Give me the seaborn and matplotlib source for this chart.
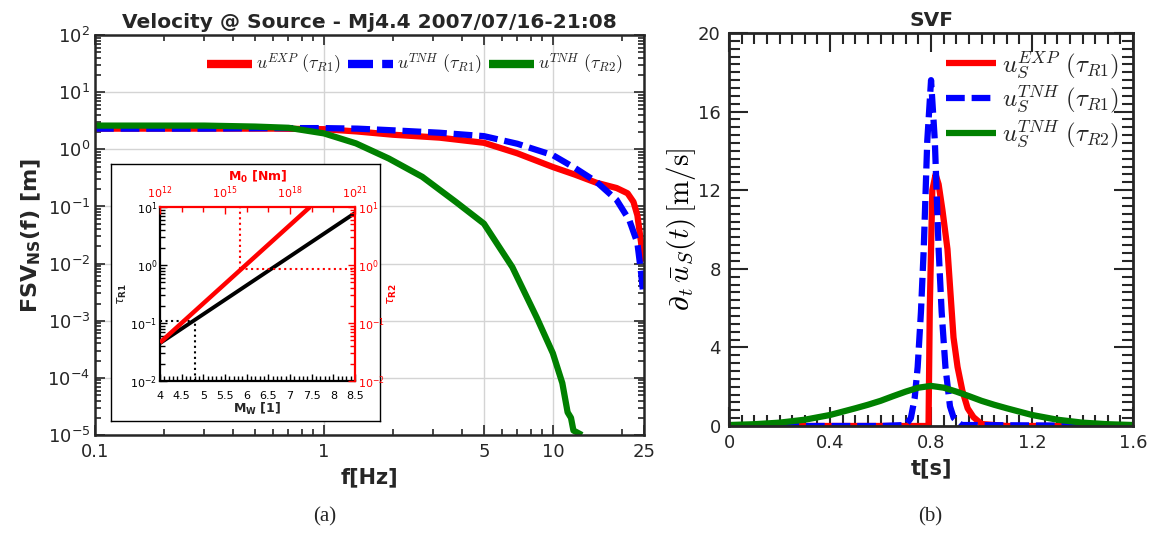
import numpy as np
import pandas as pd
import matplotlib
matplotlib.use("Agg")
import matplotlib.pyplot as plt
import seaborn as sns
from matplotlib.ticker import FixedLocator, NullFormatter, FixedFormatter, MultipleLocator, LogLocator

# values
# (a) spectra, FSV_NS(f) [m]
freq_red = [0.1, 0.3, 0.6, 1.0, 1.4, 2.0, 3.2, 5.0, 7.0, 10.0, 12.5, 15.5, 19.0, 21.2, 22.5, 23.4, 24.3, 24.8, 25.0]
fsv_red = [2.3, 2.3, 2.3, 2.25, 2.05, 1.8, 1.6, 1.3, 0.85, 0.49, 0.36, 0.26, 0.21, 0.17, 0.12, 0.07, 0.023, 0.0115, 0.011]

freq_blue = [0.1, 0.3, 0.6, 1.0, 1.4, 2.0, 3.2, 5.0, 7.0, 10.0, 12.5, 15.5, 19.0, 21.6, 23.4, 24.3, 24.8, 25.0]
fsv_blue = [2.3, 2.3, 2.35, 2.35, 2.3, 2.15, 1.95, 1.7, 1.25, 0.79, 0.47, 0.27, 0.13, 0.057, 0.023, 0.0068, 0.003, 0.0028]

freq_green = [0.1, 0.3, 0.5, 0.7, 1.0, 1.38, 1.92, 2.69, 3.77, 5.0, 6.65, 8.5, 10.0, 11.0, 11.6, 12.0, 12.3, 13.4]
fsv_green = [2.6, 2.6, 2.5, 2.38, 1.9, 1.27, 0.69, 0.33, 0.12, 0.05, 0.0087, 0.00114, 2.7e-4, 8.1e-5, 2.5e-5, 2.0e-5, 1.2e-5, 1.0e-5]

# inset: tau_R1 vs Mw and tau_R2 vs M0
mw = [4.0, 8.5]
tau_r1 = [0.045, 7.9]
m0 = [1e12, 8.3e18]
tau_r2 = [0.046, 10.0]
mw_event = 4.8
tau_r1_event = 0.11
m0_event = 10 ** 15.7
tau_r2_event = 0.85

# (b) source velocity function [m/s]
t_red = [0.0, 0.6, 0.79, 0.795, 0.805, 0.818, 0.83, 0.845, 0.865, 0.889, 0.905, 0.924, 0.945, 0.968, 1.0, 1.1, 1.6]
svf_red = [0.0, 0.0, 0.0, 6.0, 12.0, 12.8, 12.3, 11.0, 9.0, 4.5, 3.0, 1.8, 0.9, 0.45, 0.1, 0.0, 0.0]

t_blue = [0.0, 0.6, 0.7, 0.72, 0.735, 0.747, 0.76, 0.771, 0.785, 0.80, 0.815, 0.83, 0.842, 0.857, 0.875, 0.89, 0.92, 1.6]
svf_blue = [0.0, 0.0, 0.05, 0.4, 1.4, 3.0, 5.8, 9.0, 14.5, 17.6, 14.5, 9.0, 5.8, 3.0, 1.0, 0.4, 0.05, 0.0]

t_green = [0.0, 0.1, 0.2, 0.3, 0.4, 0.5, 0.55, 0.6, 0.65, 0.7, 0.75, 0.8, 0.85, 0.9, 0.95, 1.0, 1.05,
           1.1, 1.2, 1.3, 1.4, 1.5, 1.6]
svf_green = [0.05, 0.09, 0.17, 0.32, 0.56, 0.9, 1.08, 1.28, 1.52, 1.75, 1.95, 2.04, 1.95, 1.75, 1.52, 1.28, 1.08,
             0.9, 0.56, 0.32, 0.17, 0.09, 0.05]

RED = '#ff0000'
BLUE = '#0000ff'
GREEN = '#008000'
DARK = '#262626'

sns.set_style("ticks")
plt.rcParams['font.family'] = ['DejaVu Sans']
plt.rcParams['mathtext.fontset'] = 'dejavusans'
plt.rcParams['lines.solid_capstyle'] = 'butt'
plt.rcParams['lines.dash_capstyle'] = 'butt'

fig = plt.figure(figsize=(11.53, 5.38), dpi=100)

# ---------- (a) spectra ----------
ax1 = fig.add_axes([0.0824, 0.1914, 0.4761, 0.7435])
sns.lineplot(x=freq_red, y=fsv_red, color=RED, lw=4.5, ax=ax1, estimator=None,
             label=r'$u^{EXP}\ (\tau_{R1})$')
sns.lineplot(x=freq_blue, y=fsv_blue, color=BLUE, lw=4.5, ax=ax1, estimator=None,
             label=r'$u^{TNH}\ (\tau_{R1})$')
ax1.get_lines()[-1].set_dashes((3.0, 1.1))
sns.lineplot(x=freq_green, y=fsv_green, color=GREEN, lw=4.5, ax=ax1, estimator=None,
             label=r'$u^{TNH}\ (\tau_{R2})$')

ax1.set_xscale('log')
ax1.set_yscale('log')
ax1.set_xlim(0.1, 25)
ax1.set_ylim(1e-5, 1e2)
ax1.xaxis.set_major_locator(FixedLocator([0.1, 1, 5, 10, 25]))
ax1.xaxis.set_major_formatter(FixedFormatter(['0.1', '1', '5', '10', '25']))
ax1.xaxis.set_minor_locator(FixedLocator([0.2, 0.3, 0.4, 0.5, 0.6, 0.7, 0.8, 0.9, 2, 3, 4, 6, 7, 8, 9, 20]))
ax1.xaxis.set_minor_formatter(NullFormatter())
ax1.yaxis.set_major_locator(LogLocator(base=10, numticks=20))
ax1.yaxis.set_minor_locator(LogLocator(base=10, subs=np.arange(2, 10), numticks=20))
ax1.yaxis.set_minor_formatter(NullFormatter())
ax1.grid(True, which='major', color='#d4d4d4', lw=1.0)
ax1.set_axisbelow(True)
ax1.tick_params(which='both', direction='in', top=True, right=True, colors=DARK, labelsize=13, width=1.2)
ax1.tick_params(which='major', length=7)
ax1.tick_params(which='minor', length=4)
ax1.tick_params(axis='x', pad=6)
for s in ax1.spines.values():
    s.set_color(DARK)
    s.set_linewidth(1.8)
ax1.set_title('Velocity @ Source - Mj4.4 2007/07/16-21:08', fontweight='bold', fontsize=14.5, pad=5)
ax1.set_xlabel('f[Hz]', fontweight='bold', fontsize=15, color=DARK)
ax1.set_ylabel(r'FSV$_\mathbf{NS}$(f) [m]', fontweight='bold', fontsize=16, color=DARK, labelpad=3)
leg1 = ax1.legend(loc='upper right', bbox_to_anchor=(0.975, 0.975), ncol=3, frameon=False, fontsize=13,
                  handlelength=2.5, columnspacing=0.4, handletextpad=0.2, borderaxespad=0)
for t in leg1.get_texts():
    t.set_math_fontfamily('cm')
for h in leg1.get_lines():
    h.set_linewidth(6)

# inset box
ax_box = fig.add_axes([0.0963, 0.2175, 0.2333, 0.4777])
ax_box.set_xticks([])
ax_box.set_yticks([])
for s in ax_box.spines.values():
    s.set_color('black')
    s.set_linewidth(1.0)

rect_in = [0.1388, 0.2918, 0.1691, 0.3234]
ax_in = fig.add_axes(rect_in)
sns.lineplot(x=mw, y=tau_r1, color='black', lw=2.8, ax=ax_in, estimator=None)
ax_in.plot([mw_event, mw_event], [1e-2, tau_r1_event], ls=':', color='black', lw=1.5)
ax_in.plot([mw[0], mw_event], [tau_r1_event, tau_r1_event], ls=':', color='black', lw=1.5)
ax_in.set_yscale('log')
ax_in.set_xlim(4, 8.5)
ax_in.set_ylim(1e-2, 1e1)
ax_in.xaxis.set_major_locator(FixedLocator(np.arange(4, 8.51, 0.5)))
ax_in.xaxis.set_major_formatter(FixedFormatter(['4', '4.5', '5', '5.5', '6', '6.5', '7', '7.5', '8', '8.5']))
ax_in.xaxis.set_minor_locator(MultipleLocator(0.1))
ax_in.yaxis.set_minor_locator(LogLocator(base=10, subs=np.arange(2, 10), numticks=20))
ax_in.yaxis.set_minor_formatter(NullFormatter())
ax_in.tick_params(which='both', direction='in', top=False, right=False, colors='black', labelsize=8, width=1.0)
ax_in.tick_params(which='major', length=5, pad=2)
ax_in.tick_params(which='minor', length=3.5)
ax_in.tick_params(axis='x', pad=7)
ax_in.spines['top'].set_visible(False)
ax_in.spines['right'].set_visible(False)
for s in ['left', 'bottom']:
    ax_in.spines[s].set_linewidth(1.6)
    ax_in.spines[s].set_color('black')
ax_in.set_xlabel(r'M$_\mathbf{W}$ [1]', fontweight='bold', fontsize=9, labelpad=0)
ax_in.set_ylabel(r'$\tau_\mathbf{R1}$', fontsize=9, labelpad=1)

ax_in2 = fig.add_axes(rect_in, facecolor='none')
sns.lineplot(x=m0, y=tau_r2, color=RED, lw=3.2, ax=ax_in2, estimator=None)
ax_in2.plot([m0_event, m0_event], [tau_r2_event, 1e1], ls=':', color=RED, lw=1.5)
ax_in2.plot([m0_event, 1e21], [tau_r2_event, tau_r2_event], ls=':', color=RED, lw=1.5)
ax_in2.set_xscale('log')
ax_in2.set_yscale('log')
ax_in2.set_xlim(1e12, 1e21)
ax_in2.set_ylim(1e-2, 1e1)
ax_in2.xaxis.tick_top()
ax_in2.yaxis.tick_right()
ax_in2.xaxis.set_label_position('top')
ax_in2.yaxis.set_label_position('right')
ax_in2.xaxis.set_major_locator(FixedLocator([1e12, 1e15, 1e18, 1e21]))
ax_in2.xaxis.set_minor_locator(FixedLocator([10.0 ** k for k in range(13, 21)]))
ax_in2.xaxis.set_minor_formatter(NullFormatter())
ax_in2.yaxis.set_major_locator(LogLocator(base=10, numticks=20))
ax_in2.yaxis.set_minor_locator(LogLocator(base=10, subs=np.arange(2, 10), numticks=20))
ax_in2.yaxis.set_minor_formatter(NullFormatter())
ax_in2.tick_params(which='both', direction='in', colors=RED, labelsize=8, width=1.0)
ax_in2.tick_params(which='major', length=5, pad=2)
ax_in2.tick_params(which='minor', length=3.5)
ax_in2.tick_params(axis='x', pad=4)
ax_in2.tick_params(axis='y', pad=2)
ax_in2.spines['bottom'].set_visible(False)
ax_in2.spines['left'].set_visible(False)
for s in ['top', 'right']:
    ax_in2.spines[s].set_color(RED)
    ax_in2.spines[s].set_linewidth(1.6)
ax_in2.set_xlabel(r'M$_\mathbf{0}$ [Nm]', fontweight='bold', fontsize=9, color=RED, labelpad=3)
ax_in2.set_ylabel(r'$\tau_\mathbf{R2}$', fontsize=9, color=RED, labelpad=1)

# ---------- (b) SVF ----------
ax2 = fig.add_axes([0.6323, 0.2082, 0.3504, 0.7305])
sns.lineplot(x=t_red, y=svf_red, color=RED, lw=4.5, ax=ax2, estimator=None,
             label=r'$u_S^{EXP}\ (\tau_{R1})$')
sns.lineplot(x=t_blue, y=svf_blue, color=BLUE, lw=4.5, ax=ax2, estimator=None,
             label=r'$u_S^{TNH}\ (\tau_{R1})$')
ax2.get_lines()[-1].set_dashes((3.0, 1.1))
sns.lineplot(x=t_green, y=svf_green, color=GREEN, lw=4.5, ax=ax2, estimator=None,
             label=r'$u_S^{TNH}\ (\tau_{R2})$')
ax2.set_xlim(0, 1.6)
ax2.set_ylim(0, 20)
ax2.xaxis.set_major_locator(FixedLocator([0, 0.4, 0.8, 1.2, 1.6]))
ax2.xaxis.set_major_formatter(FixedFormatter(['0', '0.4', '0.8', '1.2', '1.6']))
ax2.xaxis.set_minor_locator(MultipleLocator(0.05))
ax2.yaxis.set_major_locator(MultipleLocator(4))
ax2.yaxis.set_minor_locator(MultipleLocator(0.4))
ax2.tick_params(which='both', direction='in', top=True, right=True, colors=DARK, labelsize=13, width=1.5)
ax2.tick_params(which='major', length=14, pad=6)
ax2.tick_params(which='minor', length=8)
for s in ax2.spines.values():
    s.set_color(DARK)
    s.set_linewidth(2.0)
ax2.set_title('SVF', fontweight='bold', fontsize=14.5, pad=5)
ax2.set_xlabel('t[s]', fontweight='bold', fontsize=15, color=DARK)
ylab = ax2.set_ylabel(r'$\partial_t\,\bar{u}_S(t)\,[\mathrm{m/s}]$', fontsize=21, color='black', labelpad=0)
ylab.set_math_fontfamily('cm')
leg2 = ax2.legend(loc='upper right', bbox_to_anchor=(0.99, 0.985), frameon=False, fontsize=18,
                  handlelength=2.0, handletextpad=0.25, labelspacing=0.12, borderaxespad=0)
for t in leg2.get_texts():
    t.set_math_fontfamily('cm')

fig.text(0.272, 0.03, '(a)', family='Liberation Serif', fontsize=15)
fig.text(0.796, 0.03, '(b)', family='Liberation Serif', fontsize=15)

fig.savefig('out.png', dpi=100)
